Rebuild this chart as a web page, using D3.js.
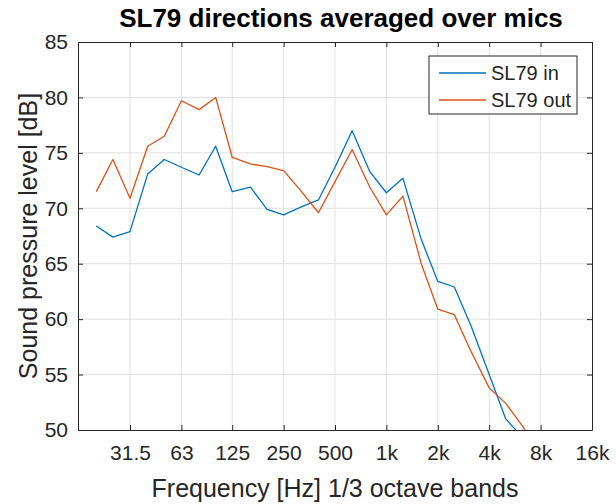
<!DOCTYPE html>
<html>
<head>
<meta charset="utf-8">
<script src="https://cdn.jsdelivr.net/npm/d3@7"></script>
<style>
  body { margin: 0; background: #fff; }
  svg { display: block; font-family: "Liberation Sans", Arial, sans-serif; }
</style>
</head>
<body>
<svg id="chart" width="616" height="504"></svg>
<script>
// 1/3 octave band centres (Hz)
const bands = [20, 25, 31.5, 40, 50, 63, 80, 100, 125, 160, 200, 250, 315, 400, 500,
  630, 800, 1000, 1250, 1600, 2000, 2500, 3150, 4000, 5000, 6300, 8000];
const levelsIn = [68.4, 67.4, 67.9, 73.1, 74.4, 73.7, 73.0, 75.6, 71.5, 71.9, 69.9, 69.4, 70.1, 70.75, 73.7,
  77.0, 73.3, 71.4, 72.7, 67.2, 63.4, 62.9, 59.3, 55.0, 51.0, 49.3, 46.5];
const levelsOut = [71.5, 74.4, 70.9, 75.6, 76.5, 79.7, 78.9, 80.0, 74.6, 74.0, 73.75, 73.4, 71.6, 69.6, 72.4,
  75.3, 71.9, 69.4, 71.1, 65.0, 60.9, 60.4, 57.0, 53.8, 52.4, 50.3, 47.5];
const xTicks = [31.5, 63, 125, 250, 500, 1000, 2000, 4000, 8000, 16000];
const xTickLabels = ["31.5", "63", "125", "250", "500", "1k", "2k", "4k", "8k", "16k"];
const yTicks = [50, 55, 60, 65, 70, 75, 80, 85];
const seriesNames = ["SL79 in", "SL79 out"];
const seriesColors = ["#0072BD", "#D95319"];

const margin = {top: 42, right: 24, bottom: 74, left: 78};
const width = 616 - margin.left - margin.right;
const height = 504 - margin.top - margin.bottom;
const axisColor = "#262626";

const svg = d3.select("#chart");
const g = svg.append("g").attr("transform", `translate(${margin.left},${margin.top})`);

const x = d3.scaleLog().domain([1000 * Math.pow(2, -6), 16000]).range([0, width]);
const y = d3.scaleLinear().domain([50, 85]).range([height, 0]);

// grid
g.append("g").selectAll("line.vgrid").data(xTicks.slice(0, -1)).enter()
  .append("line")
    .attr("x1", d => x(d)).attr("x2", d => x(d))
    .attr("y1", 0).attr("y2", height)
    .attr("stroke", "#dfdfdf").attr("stroke-width", 1);
g.append("g").selectAll("line.hgrid").data(yTicks.slice(1, -1)).enter()
  .append("line")
    .attr("y1", d => y(d)).attr("y2", d => y(d))
    .attr("x1", 0).attr("x2", width)
    .attr("stroke", "#dfdfdf").attr("stroke-width", 1);

// lines
svg.append("defs").append("clipPath").attr("id", "clip")
  .append("rect").attr("width", width).attr("height", height);

const line = d3.line().x((d, i) => x(bands[i])).y(d => y(d));
g.append("g").attr("clip-path", "url(#clip)")
  .selectAll("path.series").data([levelsIn, levelsOut]).enter()
  .append("path")
    .attr("d", line)
    .attr("fill", "none")
    .attr("stroke", (d, i) => seriesColors[i])
    .attr("stroke-width", 1.3)
    .attr("stroke-linejoin", "round");

// axes, MATLAB style box with inward ticks
const tickLen = 5;
const xAxis = d3.axisBottom(x).tickValues(xTicks).tickFormat((d, i) => xTickLabels[i])
  .tickSizeInner(-tickLen).tickSizeOuter(0).tickPadding(15);
const yAxis = d3.axisLeft(y).tickValues(yTicks).tickSizeInner(-tickLen).tickSizeOuter(0).tickPadding(10);

function styleAxis(sel) {
  sel.selectAll(".domain").attr("stroke", axisColor);
  sel.selectAll(".tick line").attr("stroke", axisColor);
  sel.selectAll(".tick text").attr("fill", axisColor).style("font-size", "21px")
    .style("font-family", '"Liberation Sans", Arial, sans-serif');
}

g.append("g").attr("transform", `translate(0,${height})`).call(xAxis).call(styleAxis);
g.append("g").call(yAxis).call(styleAxis);
g.append("g").call(d3.axisTop(x).tickValues(xTicks).tickFormat("").tickSizeInner(-tickLen).tickSizeOuter(0)).call(styleAxis);
g.append("g").attr("transform", `translate(${width},0)`)
  .call(d3.axisRight(y).tickValues(yTicks).tickFormat("").tickSizeInner(-tickLen).tickSizeOuter(0)).call(styleAxis);

// labels
svg.append("text")
  .attr("x", margin.left + width / 2 + 6).attr("y", 27)
  .attr("text-anchor", "middle")
  .style("font-size", "26px").style("font-weight", "bold").attr("fill", "#000")
  .text("SL79 directions averaged over mics");

svg.append("text")
  .attr("x", margin.left + width / 2).attr("y", 497)
  .attr("text-anchor", "middle")
  .style("font-size", "25px").attr("fill", axisColor)
  .text("Frequency [Hz] 1/3 octave bands");

svg.append("text")
  .attr("transform", `translate(37,${margin.top + height / 2}) rotate(-90)`)
  .attr("text-anchor", "middle")
  .style("font-size", "25px").attr("fill", axisColor)
  .text("Sound pressure level [dB]");

// legend
const legend = g.append("g").attr("transform", `translate(${width - 163},14)`);
legend.append("rect")
  .attr("width", 148).attr("height", 58)
  .attr("fill", "#fff").attr("stroke", axisColor).attr("stroke-width", 1);
const item = legend.selectAll("g.item").data(seriesNames).enter()
  .append("g").attr("transform", (d, i) => `translate(0,${17 + i * 27})`);
item.append("line")
  .attr("x1", 10).attr("x2", 57).attr("y1", 0).attr("y2", 0)
  .attr("stroke", (d, i) => seriesColors[i]).attr("stroke-width", 1.3);
item.append("text")
  .attr("x", 62).attr("y", 7)
  .style("font-size", "20px").attr("fill", axisColor)
  .text(d => d);
</script>
</body>
</html>
